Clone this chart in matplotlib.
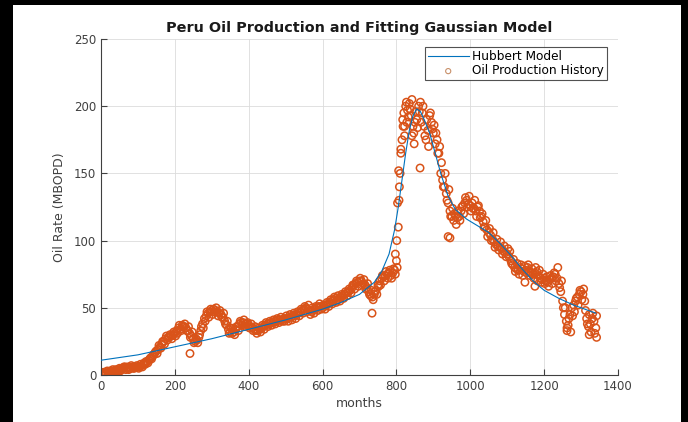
import matplotlib

matplotlib.use("Agg")
import matplotlib.pyplot as plt
import numpy as np
from matplotlib.patches import Rectangle

BLUE = "#0072BD"
ORANGE = "#D95319"
GRID = "#DCDCDC"
AXIS = "#404040"

months = np.arange(0, 1345, 5)
oil_rate = [
    1, 1, 2, 1, 2, 3, 2, 3, 4, 3, 5, 4, 5, 6, 5, 4, 5, 6, 5, 6, 6,
    6, 7, 8, 8, 10, 11, 13, 14, 16, 18,
    19, 21, 23, 25, 27, 26, 28, 29, 30, 31,
    33, 35, 34, 37, 36, 35, 33, 31, 29, 27,
    25, 26, 28, 33, 38, 42, 44, 46, 47, 48,
    49, 48, 47, 46, 45, 43, 40, 37, 34, 32,
    31, 32, 34, 36, 38, 39, 39, 38, 38, 37,
    36, 35, 34, 33, 33, 34, 35, 36, 37, 38,
    38, 39, 39, 40, 40, 41, 41, 41, 42, 42,
    42, 43, 43, 44, 44, 45, 46, 47, 48, 49,
    50, 49, 48, 47, 48, 49, 50, 51, 51, 50,
    51, 52, 53, 54, 55, 56, 57, 56, 57, 58,
    59, 60, 61, 62, 63, 65, 67, 68, 69, 70,
    70, 68, 67, 65, 62, 59, 58, 60, 63, 67,
    70, 72, 73, 74, 75, 76, 74, 76, 78, 85,
    110, 150, 175, 195, 200, 197, 202, 193, 185, 188,
    190, 200, 203, 195, 185, 175, 182, 193, 188, 180,
    172, 175, 165, 150, 145, 140, 135, 128, 122, 118,
    115, 118, 117, 118, 122, 126, 128, 130, 127, 126,
    128, 124, 122, 125, 122, 118, 114, 110, 108, 106,
    104, 101, 99, 97, 96, 95, 94, 92, 91, 90,
    88, 85, 82, 80, 79, 78, 80, 79, 77, 78,
    80, 77, 76, 75, 76, 77, 74, 72, 71, 72,
    70, 69, 71, 72, 73, 75, 72, 68, 62, 55,
    45, 40, 37, 45, 50, 52, 55, 58, 60, 62,
    60, 55, 42, 36, 38, 42, 40, 35,
]

# the months in between (2 months later), showing the month-to-month spread
months_b = np.arange(2, 1345, 5)
oil_rate_b = [
    0, 2, 1, 3, 1, 2, 4, 3, 2, 4, 3, 5, 6, 4, 6, 5, 7, 5, 6, 7, 5,
    8, 6, 9, 10, 9, 12, 12, 15, 17, 16,
    22, 20, 25, 23, 29, 28, 30, 27, 32, 29,
    31, 37, 33, 36, 38, 33, 36, 28, 32, 24,
    27, 24, 30, 36, 35, 40, 47, 43, 49, 45,
    47, 50, 44, 48, 43, 46, 38, 40, 31, 35,
    34, 30, 36, 33, 40, 37, 41, 36, 39, 35,
    38, 33, 36, 31, 35, 32, 37, 34, 39, 36,
    40, 37, 41, 38, 42, 39, 43, 40, 40, 44,
    40, 45, 41, 46, 42, 47, 44, 49, 46, 51,
    47, 52, 45, 50, 46, 51, 48, 53, 49, 52,
    49, 54, 51, 56, 53, 58, 54, 59, 55, 60,
    57, 62, 59, 64, 61, 67, 64, 70, 66, 72,
    67, 71, 64, 68, 60, 63, 56, 62, 60, 66,
    67, 74, 70, 77, 72, 78, 72, 79, 75, 80,
    130, 165, 190, 185, 203, 192, 198, 205, 180, 196,
    184, 196, 188, 200, 178, 190, 170, 195, 183, 186,
    180, 165, 170, 158, 140, 150, 130, 138, 118, 124,
    120, 112, 122, 115, 125, 120, 132, 125, 133, 122,
    124, 130, 118, 126, 117, 120, 110, 115, 103, 109,
    100, 106, 95, 101, 93, 99, 90, 96, 88, 94,
    92, 83, 86, 77, 83, 75, 82, 74, 81, 76,
    82, 74, 79, 72, 80, 70, 78, 69, 75, 68,
    73, 66, 74, 68, 76, 70, 80, 65, 70, 50,
    50, 35, 42, 32, 44, 47, 57, 52, 63, 56,
    64, 48, 38, 45, 32, 46, 31, 44,
]

# scattered months off the main trend (steep rise, outliers)
extra_months = [241, 734, 797, 801, 803, 806, 808, 812, 818, 822, 828, 842,
                848, 864, 940, 945, 1148, 1175, 1262, 1322, 1342]
extra_rate = [16, 46, 90, 100, 128, 152, 140, 168, 185, 178, 188, 178,
              172, 154, 103, 102, 69, 66, 33, 30, 28]

# fitted Hubbert (multi-Gaussian) model
model_months = [0, 100, 200, 300, 400, 500, 600, 650, 700, 740, 760, 780,
                795, 805, 815, 825, 835, 845, 855, 865, 875, 890, 905, 920,
                940, 960, 990, 1020, 1050, 1080, 1110, 1140, 1170, 1200,
                1240, 1280, 1340]
model_rate = [11, 15, 21, 27, 34, 41, 49, 54, 60, 69, 77, 90,
              108, 125, 145, 165, 182, 193, 198, 196, 190, 180, 165, 150,
              133, 123, 116, 111, 106, 98, 89, 79, 70, 63,
              57, 52, 46]

fig = plt.figure(figsize=(6.88, 4.22), dpi=100)
fig.patch.set_facecolor("black")
fig.patches.append(Rectangle((13 / 688, 0), 668 / 688, 417 / 422,
                             transform=fig.transFigure, facecolor="white",
                             edgecolor="none", zorder=-5))

ax = fig.add_axes([101 / 688, 47 / 422, 517 / 688, 336 / 422])
ax.patch.set_alpha(0)
ax.plot(model_months, model_rate, color=BLUE, linewidth=0.8,
        label="Hubbert Model", zorder=3)
ax.scatter(np.concatenate([months, months_b, extra_months]),
           np.concatenate([oil_rate, oil_rate_b, extra_rate]),
           s=28, facecolors="none", edgecolors=ORANGE, linewidths=1.1,
           label="Oil Production History", zorder=2)

ax.set_xlim(0, 1400)
ax.set_ylim(0, 250)
ax.set_xticks(range(0, 1401, 200))
ax.set_yticks(range(0, 251, 50))
ax.grid(color=GRID, linewidth=0.6)
ax.set_axisbelow(True)
for side in ("top", "right"):
    ax.spines[side].set_visible(False)
for side in ("left", "bottom"):
    ax.spines[side].set_color(AXIS)
    ax.spines[side].set_linewidth(0.8)
ax.tick_params(direction="in", length=4, colors=AXIS, labelsize=8.5,
               labelcolor="#404040")

ax.set_xlabel("months", fontsize=9, color="#404040", labelpad=3)
ax.set_ylabel("Oil Rate (MBOPD)", fontsize=9, color="#404040", labelpad=6)
ax.set_title("Peru Oil Production and Fitting Gaussian Model",
             fontsize=10.4, fontweight="bold", color="#1a1a1a", pad=5)

leg = ax.legend(loc="upper right", fontsize=8.7, frameon=True, fancybox=False,
                borderpad=0.25, labelspacing=0.1, handlelength=3.4,
                handletextpad=0.3, markerscale=0.7, borderaxespad=0,
                bbox_to_anchor=(0.979, 0.976))
leg.get_frame().set_edgecolor("#262626")
leg.get_frame().set_linewidth(0.8)
leg.legend_handles[1].set_edgecolor("#C8906A")
leg.legend_handles[1].set_linewidth(0.8)

fig.savefig("out.png", dpi=100, facecolor=fig.get_facecolor())
